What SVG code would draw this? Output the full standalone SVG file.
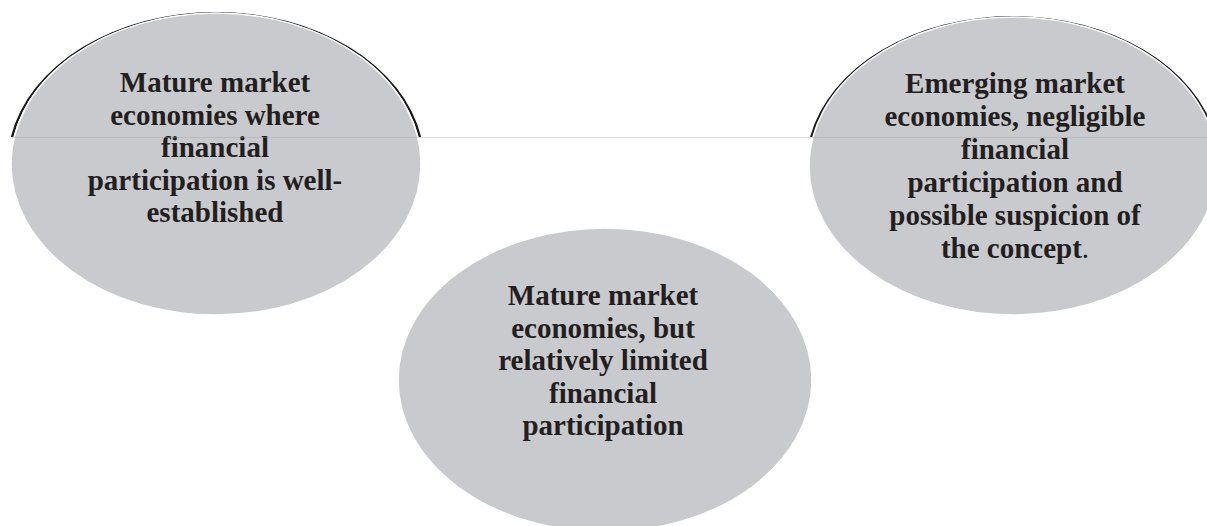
<svg xmlns="http://www.w3.org/2000/svg" width="1207" height="526" viewBox="0 0 1207 526">
<style>
.bubble{fill:#c9cacd;stroke:#ffffff;stroke-width:1.5}
.rim{fill:#1a1a1a}
.lbl{font-family:"Liberation Serif","Times New Roman",serif;font-weight:bold;font-size:29px;fill:#231f20;text-anchor:middle}
.conn{stroke:#9a9a9a;stroke-opacity:0.35;stroke-width:1;fill:none}
</style>
<rect width="1207" height="526" fill="#ffffff"/>
<g id="node-mature-established">
<path class="rim" d="M 10.8 137 A 208.5 152 0 0 1 421.2 137 L 418.7 137 A 206 151 0 0 0 13.3 137 Z"/>
<ellipse class="bubble" cx="216" cy="164" rx="205" ry="151"/>
<text class="lbl"><tspan x="215" y="92">Mature market</tspan><tspan x="215" y="124.5">economies where</tspan><tspan x="215" y="157">financial</tspan><tspan x="215" y="189.5">participation is well-</tspan><tspan x="215" y="222">established</tspan></text>
</g>
<g id="node-emerging">
<path class="rim" d="M 810 137 A 207 150.5 0 0 1 1216 137 L 1213 137 A 204.5 149.5 0 0 0 813 137 Z"/>
<ellipse class="bubble" cx="1013" cy="166" rx="204" ry="149"/>
<text class="lbl"><tspan x="1015" y="93">Emerging market</tspan><tspan x="1015" y="126">economies, negligible</tspan><tspan x="1015" y="159">financial</tspan><tspan x="1015" y="192">participation and</tspan><tspan x="1015" y="225">possible suspicion of</tspan><tspan x="1015" y="258">the concept<tspan font-weight="normal">.</tspan></tspan></text>
</g>
<g id="node-mature-limited">
<ellipse class="bubble" cx="605" cy="380" rx="207" ry="152" stroke="none"/>
<text class="lbl"><tspan x="603" y="305">Mature market</tspan><tspan x="603" y="337.5">economies, but</tspan><tspan x="603" y="370">relatively limited</tspan><tspan x="603" y="402.5">financial</tspan><tspan x="603" y="435">participation</tspan></text>
</g>
<g id="connectors">
<line class="conn" x1="12" y1="137.5" x2="1207" y2="137.5"/>
</g>
</svg>
